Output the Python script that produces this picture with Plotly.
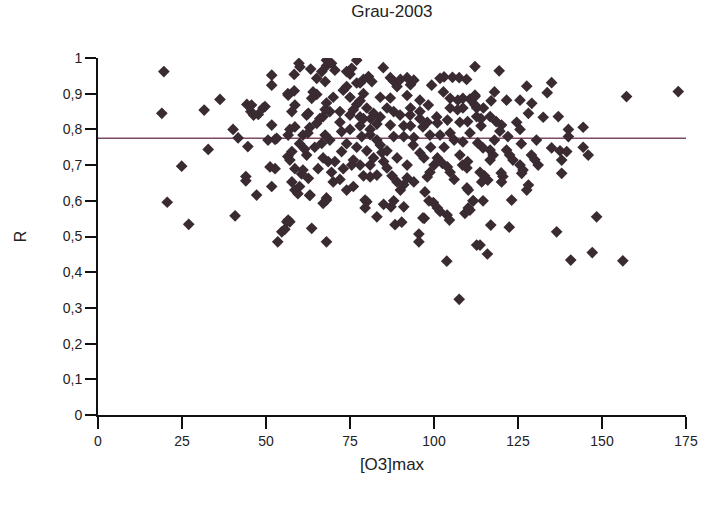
import plotly.graph_objects as go

# [O3]max values and R values
o3_max = [
    19.6, 19.0, 20.6, 24.9, 27.0, 31.6, 32.8, 36.3, 40.2, 40.8, 41.7, 44.0, 44.0, 44.3, 44.6, 45.5, 46.3, 47.2, 49.1, 45.7, 47.7,
    51.7, 51.7, 51.7, 50.6, 52.7, 56.5, 51.2, 52.7, 56.5, 51.7, 56.2, 54.7, 53.5, 57.1, 49.7, 53.2, 56.6, 57.1, 58.6, 57.7, 58.6,
    56.6, 58.4, 58.4, 59.8, 57.1, 57.7, 58.6, 57.7, 58.6, 56.6, 55.6,
    60.1, 63.3, 65.1, 67.6, 68.0, 68.0, 69.5, 70.5, 66.6, 63.6, 65.1, 64.0, 70.0, 62.6, 67.0, 67.6, 68.0, 62.1, 66.0, 69.0,
    61.0, 62.5, 65.1, 66.6, 67.6, 62.1, 68.5, 70.5, 60.6, 62.6, 61.0, 63.1, 60.0, 70.0, 67.0, 68.0, 59.5, 63.0, 63.6, 68.0,
    68.0, 64.5, 69.0, 65.5, 69.5, 60.0, 63.0, 67.0, 61.5,
    72.5, 72.5, 75.5, 76.0, 73.0, 75.0, 77.0, 79.0, 76.0, 75.0, 77.0, 79.0, 74.0, 77.0, 75.5, 74.0, 72.0, 75.0, 78.0, 78.0,
    80.0, 79.0, 78.5, 72.0, 75.0, 78.0, 74.0, 77.0, 80.0, 73.0, 78.0, 72.0, 76.0, 79.0, 80.0, 79.5, 74.0, 78.0,
    84.9, 81.5, 80.5, 87.0, 88.0, 90.0, 89.0, 82.0, 83.0, 81.0, 84.0, 87.0, 86.0, 88.0, 81.2, 84.0, 87.0, 89.9, 81.0, 83.0,
    88.0, 84.0, 84.5, 85.0, 86.0, 87.5, 89.0, 81.0, 83.0, 90.0, 83.0, 87.2, 79.5, 85.0, 88.4, 90.4, 88.0, 86.0, 89.0, 82.0, 81.0,
    91.0, 92.0, 93.0, 94.0, 92.0, 95.8, 93.0, 95.8, 92.9, 95.8, 98.3, 99.3, 93.0, 96.7, 91.0, 94.0, 98.8, 93.8, 95.8, 92.0,
    94.0, 98.0, 98.8, 91.0, 97.3, 98.5, 97.1, 95.5, 95.5, 96.7, 99.8, 92.0, 97.0, 99.0, 91.0, 98.0,
    100.8, 101.0, 101.8, 103.0, 105.5, 107.5, 109.7, 102.8, 104.8, 107.1, 108.6, 110.7, 112.2, 112.2, 104.8, 107.0, 108.6,
    104.0, 107.7, 110.0, 112.7, 101.8, 104.8, 108.6, 110.7, 101.0, 102.5, 104.0, 107.7, 110.0, 108.5, 104.8, 109.8, 109.8,
    101.0, 101.8, 103.9, 104.6, 103.8, 107.5, 110.2, 109.2, 110.2, 111.7, 112.7, 112.2, 103.0, 106.0, 100.0, 106.0,
    119.4, 117.0, 118.0, 112.2, 121.6, 125.6, 129.1, 112.7, 114.7, 128.1, 116.7, 118.5, 120.1, 114.0, 114.0, 124.6, 125.6,
    119.6, 130.5, 129.0, 131.0, 130.0, 125.6, 126.5, 121.6, 122.5, 123.5, 116.7, 117.6, 116.7, 113.0, 114.6, 113.7, 115.0,
    116.0, 120.0, 120.5, 126.1, 128.1, 114.2, 120.1, 127.6, 111.6, 114.6, 123.1, 110.7, 116.9, 122.4, 113.7, 115.9, 127.6,
    118.0, 122.0, 126.0,
    135.0, 133.7, 132.5, 137.0, 140.0, 144.4, 140.0, 144.4, 145.9, 135.0, 137.5, 139.5, 138.0, 138.0, 136.5, 148.4, 140.7,
    147.1, 156.2, 157.3, 172.7,
]
r_values = [
    0.962, 0.845, 0.596, 0.697, 0.534, 0.854, 0.744, 0.884, 0.800, 0.558, 0.776, 0.668, 0.656, 0.870, 0.752, 0.850, 0.840, 0.616, 0.860, 0.868, 0.842,
    0.952, 0.924, 0.812, 0.770, 0.772, 0.900, 0.695, 0.690, 0.724, 0.640, 0.541, 0.513, 0.485, 0.541, 0.864, 0.775, 0.784, 0.800, 0.807, 0.850, 0.868,
    0.896, 0.908, 0.954, 0.985, 0.714, 0.738, 0.690, 0.653, 0.630, 0.546, 0.520,
    0.975, 0.969, 0.943, 0.934, 0.994, 0.978, 0.985, 0.966, 0.962, 0.887, 0.898, 0.905, 0.890, 0.845, 0.836, 0.856, 0.874, 0.840, 0.830, 0.850,
    0.784, 0.790, 0.817, 0.761, 0.784, 0.728, 0.710, 0.710, 0.675, 0.663, 0.686, 0.616, 0.640, 0.653, 0.593, 0.608, 0.620, 0.615, 0.523, 0.485,
    0.602, 0.750, 0.770, 0.690, 0.680, 0.760, 0.805, 0.720, 0.745,
    0.794, 0.738, 0.700, 0.714, 0.910, 0.890, 0.870, 0.900, 0.855, 0.955, 0.930, 0.940, 0.920, 0.994, 0.971, 0.962, 0.850, 0.840, 0.835, 0.880,
    0.860, 0.830, 0.780, 0.820, 0.800, 0.810, 0.760, 0.750, 0.740, 0.690, 0.700, 0.660, 0.640, 0.670, 0.597, 0.602, 0.630, 0.930,
    0.973, 0.934, 0.948, 0.945, 0.935, 0.940, 0.920, 0.845, 0.815, 0.800, 0.890, 0.888, 0.860, 0.850, 0.830, 0.835, 0.812, 0.840, 0.785, 0.770,
    0.780, 0.756, 0.735, 0.710, 0.692, 0.670, 0.653, 0.667, 0.672, 0.630, 0.555, 0.583, 0.580, 0.590, 0.533, 0.540, 0.600, 0.740, 0.720, 0.720, 0.700,
    0.583, 0.945, 0.925, 0.938, 0.895, 0.882, 0.860, 0.850, 0.840, 0.830, 0.868, 0.924, 0.810, 0.807, 0.780, 0.777, 0.784, 0.756, 0.734, 0.664,
    0.653, 0.667, 0.680, 0.645, 0.625, 0.600, 0.551, 0.507, 0.485, 0.552, 0.595, 0.700, 0.720, 0.750, 0.810, 0.820,
    0.835, 0.818, 0.943, 0.947, 0.946, 0.945, 0.940, 0.905, 0.887, 0.882, 0.887, 0.885, 0.896, 0.868, 0.860, 0.855, 0.860,
    0.826, 0.820, 0.822, 0.836, 0.784, 0.790, 0.765, 0.790, 0.720, 0.705, 0.695, 0.728, 0.710, 0.700, 0.680, 0.692, 0.636,
    0.580, 0.570, 0.560, 0.546, 0.431, 0.324, 0.630, 0.565, 0.580, 0.600, 0.476, 0.976, 0.750, 0.770, 0.700, 0.660,
    0.964, 0.880, 0.905, 0.892, 0.882, 0.882, 0.873, 0.860, 0.860, 0.845, 0.836, 0.822, 0.812, 0.830, 0.810, 0.820, 0.800,
    0.795, 0.770, 0.728, 0.700, 0.715, 0.700, 0.686, 0.742, 0.728, 0.714, 0.742, 0.728, 0.714, 0.762, 0.748, 0.680, 0.670,
    0.658, 0.678, 0.668, 0.677, 0.644, 0.653, 0.653, 0.630, 0.600, 0.600, 0.602, 0.574, 0.532, 0.526, 0.476, 0.451, 0.921,
    0.770, 0.780, 0.760,
    0.931, 0.903, 0.834, 0.836, 0.800, 0.806, 0.780, 0.750, 0.728, 0.748, 0.740, 0.738, 0.714, 0.677, 0.513, 0.555, 0.434,
    0.455, 0.432, 0.892, 0.906,
]

# horizontal mean line
mean_line_x = [0, 175]
mean_line_y = [0.775, 0.775]

x_ticks = [0, 25, 50, 75, 100, 125, 150, 175]
y_ticks = [0, 0.1, 0.2, 0.3, 0.4, 0.5, 0.6, 0.7, 0.8, 0.9, 1]
y_tick_labels = ["0", "0,1", "0,2", "0,3", "0,4", "0,5", "0,6", "0,7", "0,8", "0,9", "1"]

fig = go.Figure()
fig.add_trace(go.Scatter(
    x=mean_line_x, y=mean_line_y, mode="lines",
    line=dict(color="#7d4a63", width=1.6), showlegend=False, hoverinfo="skip",
))
fig.add_trace(go.Scatter(
    x=o3_max, y=r_values, mode="markers",
    marker=dict(symbol="diamond", size=9, color="#3a2b33", line=dict(width=0)),
    showlegend=False,
))

font_family = "Liberation Sans, Arial, sans-serif"
fig.update_layout(
    width=710, height=506,
    margin=dict(l=98, r=24, t=58, b=91),
    paper_bgcolor="white", plot_bgcolor="white",
    title=dict(text="Grau-2003", x=0.552, xanchor="center", y=0.99, yanchor="top",
               font=dict(family=font_family, size=17, color="#222")),
    font=dict(family=font_family, size=14, color="#222"),
    xaxis=dict(
        range=[0, 175], tickvals=x_ticks, ticktext=[str(v) for v in x_ticks],
        showgrid=False, zeroline=False, showline=True, linecolor="#111", linewidth=2,
        ticks="outside", ticklen=12, tickwidth=2, tickcolor="#111",
        title=dict(text="[O3]max", font=dict(size=17, family=font_family, color="#222"), standoff=10),
    ),
    yaxis=dict(
        range=[0, 1], tickvals=y_ticks, ticktext=y_tick_labels,
        showgrid=False, zeroline=False, showline=True, linecolor="#111", linewidth=2,
        ticks="outside", ticklen=11, tickwidth=2, tickcolor="#111",
        title=dict(text="R", font=dict(size=16, family=font_family, color="#222"), standoff=32),
    ),
)

fig.write_html("out.html")
